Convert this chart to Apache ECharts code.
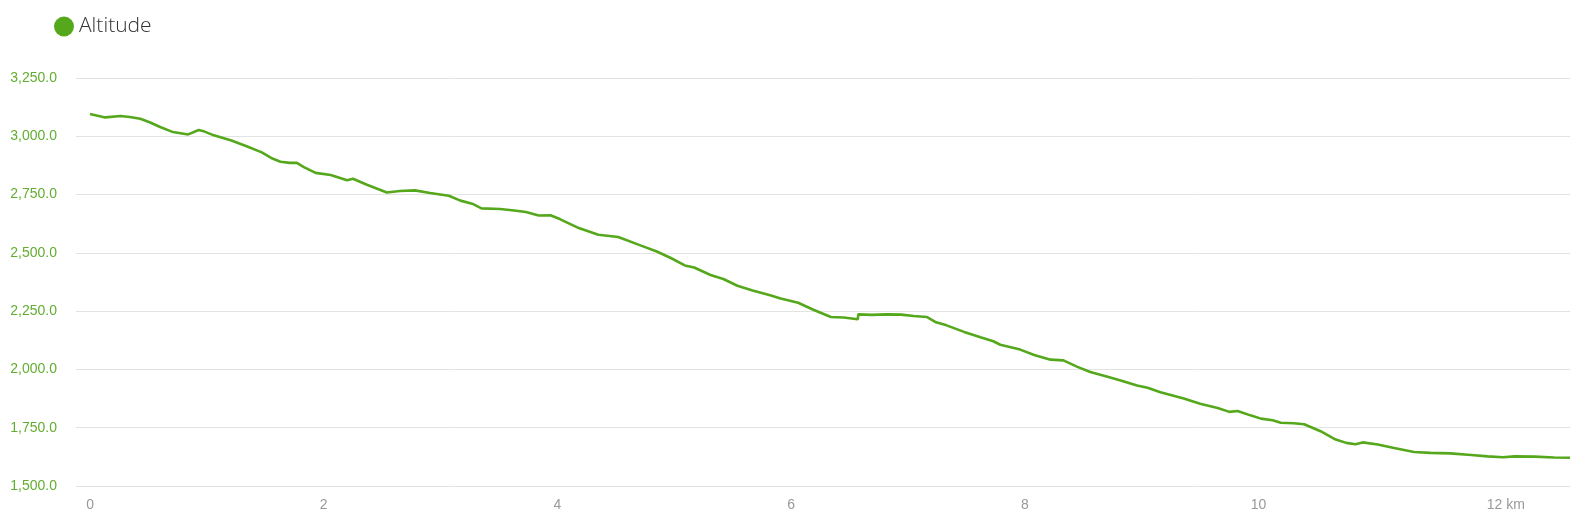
<!DOCTYPE html>
<html>
<head>
<meta charset="utf-8">
<script src="https://cdn.jsdelivr.net/npm/echarts@6/dist/echarts.min.js"></script>
<style>
html,body{margin:0;padding:0;background:#fff;}
#chart{width:1584px;height:529px;}
</style>
</head>
<body>
<div id="chart"></div>
<script>
const seriesName = 'Altitude';
const distances = [0.0,0.13,0.26,0.34,0.43,0.51,0.60,0.71,0.84,0.93,0.98,1.06,1.21,1.34,1.47,1.55,1.63,1.71,1.77,1.83,1.93,2.06,2.20,2.25,2.37,2.54,2.65,2.78,2.91,3.07,3.17,3.27,3.35,3.51,3.63,3.73,3.84,3.94,4.02,4.17,4.35,4.52,4.71,4.85,4.97,5.09,5.17,5.31,5.42,5.54,5.67,5.82,5.91,6.06,6.19,6.34,6.45,6.46,6.57,6.575,6.69,6.82,6.94,7.05,7.16,7.24,7.33,7.48,7.62,7.73,7.79,7.96,8.08,8.22,8.33,8.45,8.56,8.70,8.82,8.96,9.05,9.16,9.36,9.50,9.65,9.75,9.82,9.93,10.02,10.12,10.19,10.30,10.39,10.53,10.66,10.75,10.83,10.89,11.02,11.16,11.33,11.47,11.64,11.82,11.96,12.09,12.19,12.36,12.53,12.665];
const altitudes = [3096,3081,3087,3083,3075,3060,3040,3018,3008,3027,3020,3004,2982,2957,2931,2907,2891,2886,2886,2868,2843,2834,2811,2818,2792,2759,2765,2768,2757,2745,2724,2711,2691,2688,2682,2675,2660,2661,2645,2609,2578,2568,2532,2506,2478,2446,2437,2405,2388,2359,2339,2318,2304,2286,2256,2225,2223,2215,2215,2236,2234,2236,2235,2229,2225,2202,2189,2161,2138,2121,2106,2085,2062,2042,2039,2011,1989,1970,1953,1931,1921,1902,1875,1853,1835,1818,1822,1803,1789,1782,1771,1769,1765,1735,1699,1685,1679,1687,1678,1663,1646,1642,1640,1633,1627,1623,1627,1626,1622,1621];
const xTickValues = [0, 2, 4, 6, 8, 10, 12];
const xUnit = 'km';
const yMin = 1500, yMax = 3250, yStep = 250;

const chart = echarts.init(document.getElementById('chart'), null, {renderer: 'canvas'});
const lastTick = xTickValues[xTickValues.length - 1];
chart.setOption({
  animation: false,
  backgroundColor: '#ffffff',
  legend: {
    data: [seriesName],
    left: 49, top: 11,
    icon: 'circle',
    itemWidth: 20, itemHeight: 20,
    textStyle: {fontFamily: '"Open Sans", sans-serif', fontWeight: 300, fontSize: 21, color: '#333333'}
  },
  grid: {left: 76, right: 14, top: 78, bottom: 43},
  xAxis: {
    type: 'value',
    min: -0.12, max: 12.665,
    axisLine: {show: false},
    axisTick: {show: false},
    splitLine: {show: false},
    axisLabel: {
      customValues: xTickValues,
      margin: 12,
      fontFamily: '"Liberation Sans", Arial, sans-serif',
      fontSize: 14,
      color: '#999999',
      formatter: function (v) { return v === lastTick ? '{p|}' + v + ' ' + xUnit : String(v); },
      rich: {p: {width: 27}}
    }
  },
  yAxis: {
    type: 'value',
    min: yMin, max: yMax, interval: yStep,
    axisLine: {show: false},
    axisTick: {show: false},
    splitLine: {lineStyle: {color: '#e3e3e3', width: 1}},
    axisLabel: {
      margin: 19,
      fontFamily: '"Liberation Sans", Arial, sans-serif',
      fontSize: 14,
      color: '#62ad30',
      formatter: function (v) { return v.toLocaleString('en-US', {minimumFractionDigits: 1, maximumFractionDigits: 1}); }
    }
  },
  series: [{
    name: seriesName,
    type: 'line',
    data: distances.map((d, i) => [d, altitudes[i]]),
    showSymbol: false,
    color: '#55a81c',
    lineStyle: {width: 2.6, color: '#55a81c'}
  }]
});
</script>
</body>
</html>
